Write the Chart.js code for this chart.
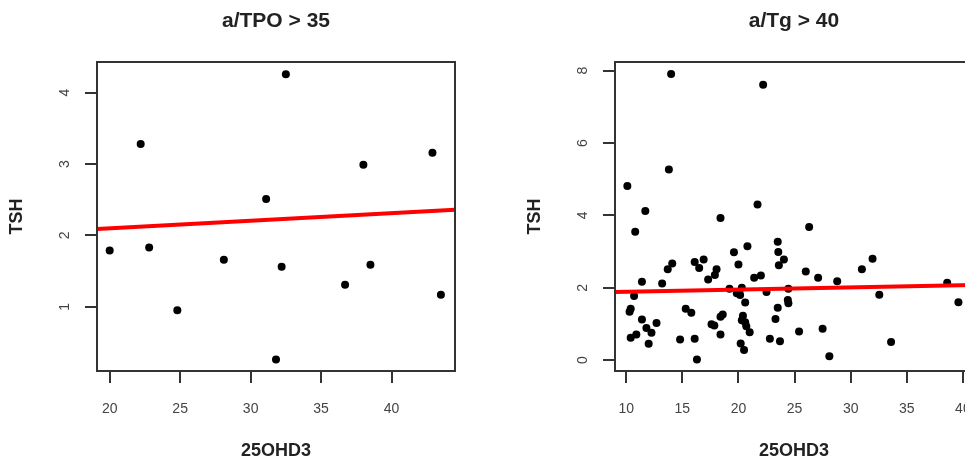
<!DOCTYPE html>
<html>
<head>
<meta charset="utf-8">
<script src="https://cdn.jsdelivr.net/npm/chart.js@4/dist/chart.umd.min.js"></script>
<style>
  html, body { margin: 0; padding: 0; background: #fff; }
  body { width: 965px; height: 458px; overflow: hidden; position: relative; }
  canvas { position: absolute; top: 0; }
  #tpo { left: 0; }
  #tg { left: 518px; }
</style>
</head>
<body>
<canvas id="tpo" width="480" height="458"></canvas>
<canvas id="tg" width="480" height="458"></canvas>
<script>
// a/TPO > 35 panel
const tpoX = [20.0, 22.2, 22.8, 24.8, 28.1, 31.1, 31.8, 32.2, 32.5, 36.7, 38.0, 38.5, 42.9, 43.5];
const tpoY = [1.79, 3.28, 1.83, 0.95, 1.66, 2.51, 0.26, 1.56, 4.26, 1.31, 2.99, 1.59, 3.16, 1.17];
const tpoFitX = [19.1, 44.5];
const tpoFitY = [2.09, 2.36];
const tpoXTicks = [20, 25, 30, 35, 40];
const tpoYTicks = [1, 2, 3, 4];
const tpoXRange = [19.1, 44.5];
const tpoYRange = [0.1, 4.43];

// a/Tg > 40 panel
const tgX = [14.0, 22.2, 13.8, 10.1, 11.7, 18.4, 21.7, 26.3, 10.8, 14.1,
             13.7, 16.1, 16.9, 16.5, 18.05, 17.9, 17.3, 11.4, 13.2, 19.6,
             19.2, 10.7, 10.4, 10.3, 11.4, 12.7, 11.8, 12.25, 10.9, 10.4,
             12.0, 14.8, 16.1, 16.3, 15.3, 15.8, 18.4, 18.6, 17.6, 17.85,
             18.4, 20.8, 20.0, 23.5, 23.55, 24.05, 23.6, 21.4, 22.0, 26.0,
             27.1, 28.8, 20.3, 19.85, 20.15, 20.6, 22.5, 24.45, 24.4, 24.45,
             23.5, 23.3, 20.4, 20.3, 20.6, 20.7, 21.0, 20.2, 20.5, 22.8,
             23.7, 25.4, 27.5, 28.1, 31.0, 31.95, 32.55, 33.6, 38.6, 39.6];
const tgY = [7.91, 7.61, 5.27, 4.81, 4.12, 3.93, 4.30, 3.68, 3.55, 2.67,
             2.51, 2.71, 2.78, 2.55, 2.51, 2.35, 2.23, 2.17, 2.12, 2.98,
             1.97, 1.77, 1.42, 1.34, 1.12, 1.03, 0.89, 0.76, 0.71, 0.62,
             0.45, 0.57, 0.59, 0.02, 1.42, 1.31, 1.20, 1.26, 0.99, 0.96,
             0.71, 3.15, 2.64, 3.27, 2.99, 2.78, 2.62, 2.28, 2.34, 2.45,
             2.28, 2.18, 2.00, 1.85, 1.80, 1.59, 1.88, 1.97, 1.66, 1.57,
             1.45, 1.14, 1.23, 1.10, 1.05, 0.94, 0.77, 0.46, 0.28, 0.59,
             0.52, 0.79, 0.87, 0.11, 2.51, 2.80, 1.81, 0.50, 2.14, 1.60];
const tgFitX = [9.0, 40.9];
const tgFitY = [1.88, 2.08];
const tgXTicks = [10, 15, 20, 25, 30, 35, 40];
const tgYTicks = [0, 2, 4, 6, 8];
const tgXRange = [9.0, 40.9];
const tgYRange = [-0.3, 8.24];

const FONT = "'Liberation Sans', Arial, Helvetica, sans-serif";
const AXIS_COLOR = '#333';

// R style: box round the plot, y tick labels turned parallel to the axis
const rStyle = {
    id: 'rStyle',
    afterDraw(chart) {
        const { ctx, chartArea } = chart;
        ctx.save();
        ctx.strokeStyle = AXIS_COLOR;
        ctx.lineWidth = 2;
        ctx.strokeRect(chartArea.left, chartArea.top,
            chartArea.right - chartArea.left, chartArea.bottom - chartArea.top);

        const yScale = chart.scales.y;
        ctx.fillStyle = '#444';
        ctx.font = '14px ' + FONT;
        ctx.textAlign = 'center';
        ctx.textBaseline = 'middle';
        yScale.ticks.forEach(t => {
            const py = yScale.getPixelForValue(t.value);
            ctx.save();
            ctx.translate(chartArea.left - 32, py);
            ctx.rotate(-Math.PI / 2);
            ctx.fillText(String(t.value), 0, 0);
            ctx.restore();
        });
        ctx.restore();
    }
};

function makePanel(id, title, xs, ys, fitX, fitY, xTicks, yTicks, xRange, yRange) {
    const points = xs.map((x, i) => ({ x: x, y: ys[i] }));
    const fit = fitX.map((x, i) => ({ x: x, y: fitY[i] }));

    return new Chart(document.getElementById(id), {
        type: 'scatter',
        data: {
            datasets: [
                {
                    type: 'line',
                    data: fit,
                    borderColor: '#ff0000',
                    borderWidth: 4,
                    pointRadius: 0,
                    fill: false
                },
                {
                    data: points,
                    backgroundColor: '#000',
                    borderColor: '#000',
                    pointRadius: 4,
                    borderWidth: 0
                }
            ]
        },
        options: {
            responsive: false,
            animation: false,
            devicePixelRatio: 1,
            layout: { padding: { left: 0, top: 0, right: 25, bottom: 0 } },
            plugins: {
                legend: { display: false },
                tooltip: { enabled: false },
                title: {
                    display: true,
                    text: title,
                    fullSize: false,
                    color: '#222',
                    font: { family: FONT, size: 21, weight: 'bold', lineHeight: 1.2 },
                    padding: { top: 8.4, bottom: 28.4 }
                }
            },
            scales: {
                x: {
                    type: 'linear',
                    min: xRange[0],
                    max: xRange[1],
                    afterBuildTicks: s => { s.ticks = xTicks.map(v => ({ value: v })); },
                    afterFit: s => { s.height = 87; },
                    grid: {
                        drawOnChartArea: false,
                        drawTicks: true,
                        tickLength: 12,
                        color: AXIS_COLOR,
                        lineWidth: 2
                    },
                    border: { display: false },
                    ticks: {
                        autoSkip: false,
                        maxRotation: 0,
                        padding: 18,
                        color: '#444',
                        font: { family: FONT, size: 14 }
                    },
                    title: {
                        display: true,
                        text: '25OHD3',
                        color: '#222',
                        font: { family: FONT, size: 18, weight: 'bold', lineHeight: 1 },
                        padding: { top: 0, bottom: -2 }
                    }
                },
                y: {
                    type: 'linear',
                    min: yRange[0],
                    max: yRange[1],
                    afterBuildTicks: s => { s.ticks = yTicks.map(v => ({ value: v })); },
                    afterFit: s => { s.width = 97; },
                    grid: {
                        drawOnChartArea: false,
                        drawTicks: true,
                        tickLength: 12,
                        color: AXIS_COLOR,
                        lineWidth: 2
                    },
                    border: { display: false },
                    ticks: {
                        autoSkip: false,
                        color: 'rgba(0,0,0,0)',
                        font: { family: FONT, size: 14 }
                    },
                    title: {
                        display: true,
                        text: 'TSH',
                        color: '#222',
                        font: { family: FONT, size: 18, weight: 'bold', lineHeight: 1 },
                        padding: { top: 8, bottom: 0 }
                    }
                }
            }
        },
        plugins: [rStyle]
    });
}

makePanel('tpo', 'a/TPO > 35', tpoX, tpoY, tpoFitX, tpoFitY, tpoXTicks, tpoYTicks, tpoXRange, tpoYRange);
makePanel('tg', 'a/Tg > 40', tgX, tgY, tgFitX, tgFitY, tgXTicks, tgYTicks, tgXRange, tgYRange);
</script>
</body>
</html>
